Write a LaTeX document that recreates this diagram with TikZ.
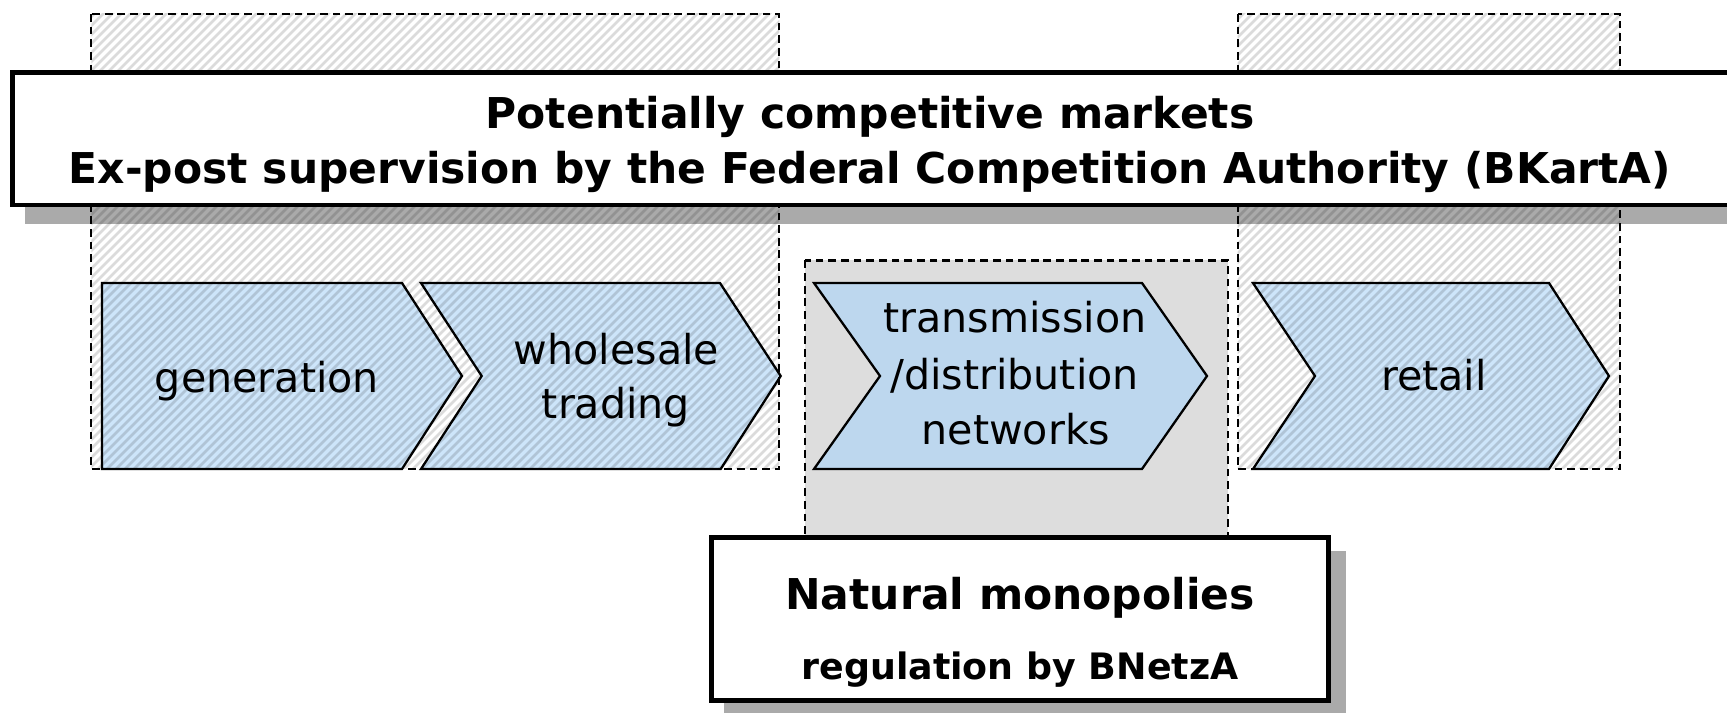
\documentclass[tikz,border=0pt]{standalone}
\usepackage{fontspec}
\setmainfont{DejaVu Sans}

\definecolor{chevhatch}{HTML}{CDE5FA}
\definecolor{chevplain}{HTML}{BDD7EE}
\definecolor{netgrey}{HTML}{DDDDDD}
\definecolor{shadowgrey}{HTML}{AAAAAA}

\tikzset{
  chev/.style={draw=black, line width=0.65pt, line join=miter},
  zone/.style={draw=black, line width=0.65pt, dash pattern=on 2.2pt off 1.4pt},
  hatchline/.style={black, opacity=0.14, line width=0.75pt},
  framebox/.style={draw=black, fill=white, line width=1.33pt},
  lbl/.style={font=\fontsize{11.72}{14}\selectfont, anchor=base, inner sep=0pt},
  head/.style={font=\fontsize{12.08}{14}\selectfont\bfseries, anchor=base, inner sep=0pt},
  subhead/.style={font=\fontsize{10.35}{12}\selectfont\bfseries, anchor=base, inner sep=0pt},
}

\begin{document}
\begin{tikzpicture}[x=0.1mm, y=-0.1mm]
\useasboundingbox (0,0) rectangle (1727,713);

% drop shadow of the top banner
\fill[shadowgrey] (25.3,86) rectangle (1760,224);

% regulated network zone
\draw[zone, fill=netgrey] (805.3,260.5) rectangle (1227.7,600);

% value-chain steps in the competitive zones
\filldraw[chev, fill=chevhatch] (102,283) -- (402,283) -- (462,376) -- (402,469) -- (102,469) -- cycle;
\filldraw[chev, fill=chevhatch] (421,283) -- (720,283) -- (780.7,376) -- (720.7,469) -- (421,469) -- (481.7,376) -- cycle;
\filldraw[chev, fill=chevhatch] (1253,283) -- (1549,283) -- (1609,376) -- (1549,469) -- (1253,469) -- (1315,376) -- cycle;

% hatching of the competitive zones
\begin{scope}
  \clip (91.3,14) rectangle (779.3,469);
  \foreach \k in {-480,-471,...,780} \draw[hatchline] (\k,480) -- ++(480,-480);
\end{scope}
\begin{scope}
  \clip (1237.7,14) rectangle (1620,469);
  \foreach \k in {750,759,...,1620} \draw[hatchline] (\k,480) -- ++(480,-480);
\end{scope}
\draw[zone] (91.3,14) rectangle (779.3,469);
\draw[zone] (1237.7,14) rectangle (1620,469);

% network step
\filldraw[chev, fill=chevplain] (814,283) -- (1142,283) -- (1207,376) -- (1142,469) -- (814,469) -- (880,376) -- cycle;

% step labels
\node[lbl] (gen) at (267,392.5) {generation};
\node[lbl] (whsA) at (616.5,364.6) {wholesale};
\node[lbl] (whsB) at (616,418.5) {trading};
\node[lbl] (trA) at (1015,333) {transmission};
\node[lbl] (trB) at (1014.5,390) {/distribution};
\node[lbl] (trC) at (1016,445) {networks};
\node[lbl] (ret) at (1434,391) {retail};

% top banner
\draw[framebox] (12.3,72.3) rectangle (1735,205);
\node[head] (mkt) at (870,128.5) {Potentially competitive markets};
\node[head] (sup) at (870,184) {Ex-post supervision by the Federal Competition Authority (BKartA)};

% bottom box with shadow
\fill[shadowgrey] (724.2,551.2) rectangle (1345.9,720);
\draw[framebox] (711.5,537.5) rectangle (1328.5,700.5);
\node[head] (mono) at (1020,610) {Natural monopolies};
\node[subhead] (reg) at (1020,680) {regulation by BNetzA};
\end{tikzpicture}
\end{document}
